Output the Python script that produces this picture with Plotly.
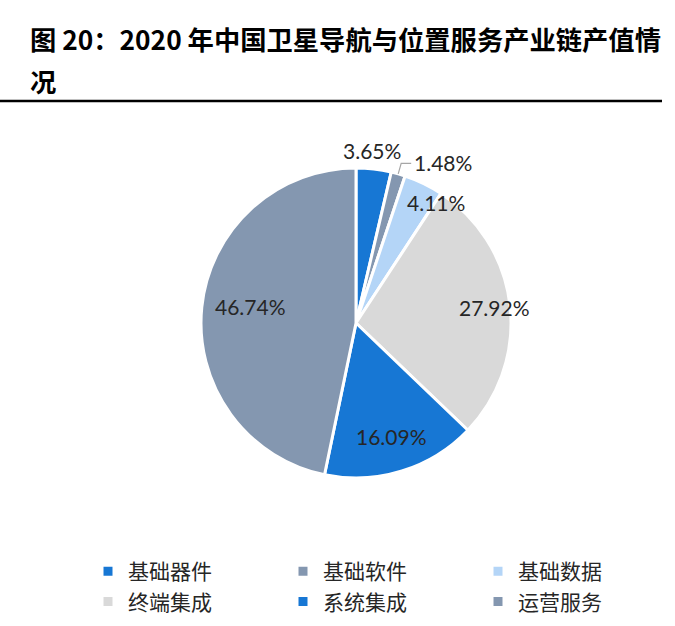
import math
import plotly.graph_objects as go

categories = ["基础器件", "基础软件", "基础数据", "终端集成", "系统集成", "运营服务"]
values = [3.65, 1.48, 4.11, 27.92, 16.09, 46.74]
colors = ["#1777D4", "#8497B0", "#B4D5F7", "#D9D9D9", "#1777D4", "#8497B0"]
# style: label distance (fraction of radius) and angular nudge (degrees) per slice
label_radius = [1.12, 1.0, 0.935, 0.90, 0.77, 0.69]
label_nudge = [-1.3, 0.0, 7.6, 0.0, 0.0, 3.0]

W, H = 675, 626
CX, CY, R = 356, 323, 155
label_font = dict(family="Lato, Carlito, sans-serif", size=21, color="#262626")

fig = go.Figure()
fig.add_trace(go.Pie(
    labels=categories, values=values, sort=False, direction="clockwise", rotation=0,
    marker=dict(colors=colors, line=dict(color="white", width=3)),
    textinfo="none", hoverinfo="label+value",
    domain=dict(x=[(CX - R) / W, (CX + R) / W], y=[1 - (CY + R) / H, 1 - (CY - R) / H]),
))

total = sum(values)
annotations = []
shapes = []
cum = 0.0
for i, v in enumerate(values):
    mid = (cum + v / 2) / total * 2 * math.pi
    cum += v
    txt = f"{v:.2f}%"
    if i == 1:
        x0 = CX + R * math.sin(mid); y0 = CY - R * math.cos(mid)
        x1 = CX + 1.07 * R * math.sin(mid); y1 = CY - 1.07 * R * math.cos(mid)
        x2 = x1 + 10
        shapes.append(dict(type="path", xref="paper", yref="paper",
                           path=f"M {x0/W},{1-y0/H} L {x1/W},{1-y1/H} L {x2/W},{1-y1/H}",
                           line=dict(color="#A6A6A6", width=1.2)))
        annotations.append(dict(x=(x2 + 1) / W, y=1 - (y1 - 1) / H, xref="paper", yref="paper",
                                text=txt, showarrow=False, xanchor="left", yanchor="middle",
                                font=label_font))
    else:
        f = label_radius[i]
        a = mid + math.radians(label_nudge[i])
        x = CX + f * R * math.sin(a); y = CY - f * R * math.cos(a)
        annotations.append(dict(x=x / W, y=1 - y / H, xref="paper", yref="paper",
                                text=txt, showarrow=False, xanchor="center", yanchor="middle",
                                font=label_font))

title_font = dict(family="Noto Sans CJK SC, sans-serif", size=26.3, color="#000000")
annotations.append(dict(x=28 / W, y=1 - 39 / H, xref="paper", yref="paper", xanchor="left", yanchor="middle",
                        text="<b>图 20：2020 年中国卫星导航与位置服务产业链产值情</b>", showarrow=False, font=title_font))
annotations.append(dict(x=28 / W, y=1 - 80 / H, xref="paper", yref="paper", xanchor="left", yanchor="middle",
                        text="<b>况</b>", showarrow=False, font=title_font))
shapes.append(dict(type="line", xref="paper", yref="paper", x0=0, x1=662 / W, y0=1 - 101 / H, y1=1 - 101 / H,
                   line=dict(color="#000000", width=2.5)))

fig.update_layout(
    width=W, height=H, margin=dict(l=0, r=0, t=0, b=0, autoexpand=False),
    paper_bgcolor="white", plot_bgcolor="white",
    annotations=annotations, shapes=shapes,
    showlegend=True,
    legend=dict(orientation="h", x=88 / W, y=1 - 551 / H, xanchor="left", yanchor="top",
                entrywidth=150, entrywidthmode="pixels", traceorder="normal",
                font=dict(family="Noto Sans CJK SC, sans-serif", size=21, color="#262626"),
                itemclick=False, bgcolor="rgba(0,0,0,0)", tracegroupgap=0),
)
fig.write_html("out.html", config={"displayModeBar": False},
               post_script="document.body.style.margin='0px';")
